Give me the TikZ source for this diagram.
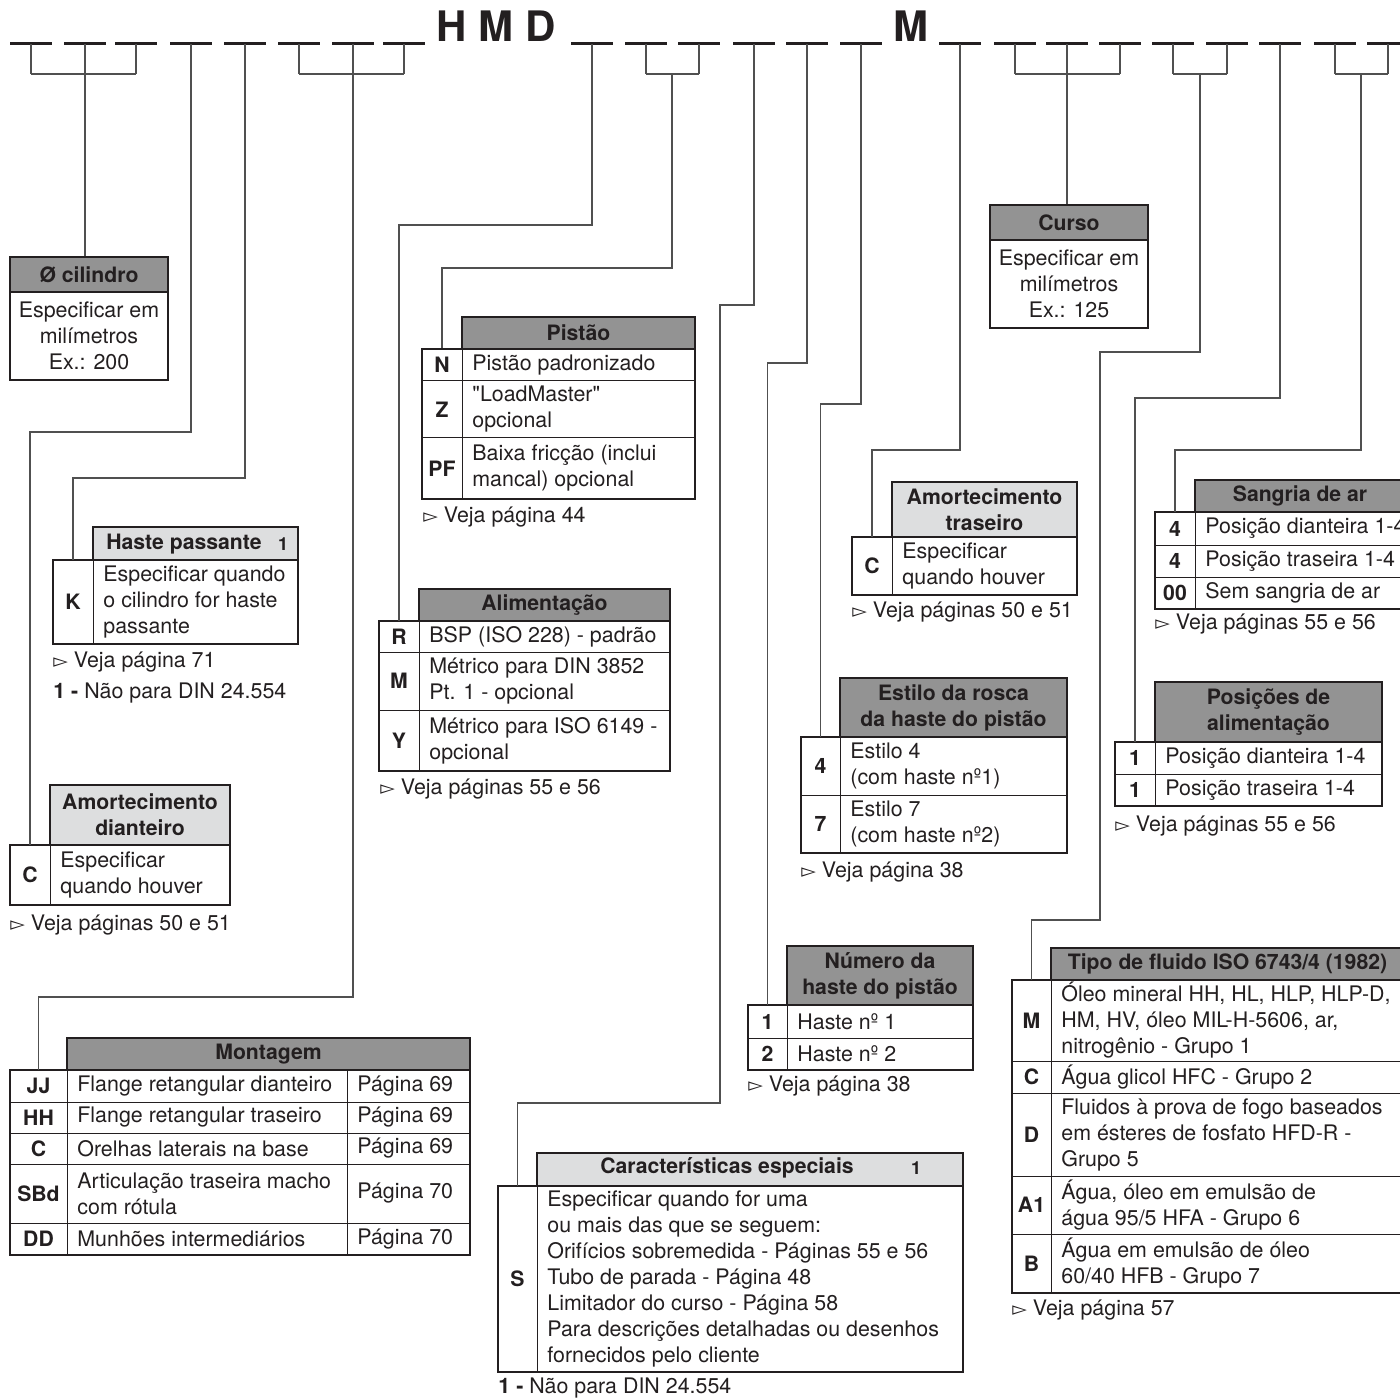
\documentclass[tikz,border=0pt]{standalone}
\usepackage{fontspec}
\setmainfont{TeX Gyre Heros}[Ligatures=TeXOff]
\newfontfamily\symf{DejaVu Sans}
\definecolor{hdark}{RGB}{147,147,147}
\definecolor{hlight}{RGB}{221,222,223}
\definecolor{bd}{RGB}{35,31,32}
\definecolor{ld}{RGB}{80,80,80}
\newcommand\tri{{\symf\fontsize{9.5}{10}\selectfont ▻}}
\newcommand\mybody{\fontsize{10.7}{13}\selectfont}
\newcommand\myhead{\bfseries\fontsize{10.6}{13}\selectfont}
\tikzset{
 hdk/.style={draw=bd, line width=1.2pt, fill=hdark, inner sep=0pt, font=\myhead, align=center, text=bd},
 hlt/.style={hdk, fill=hlight},
 keyc/.style={draw=bd, line width=0.5pt, inner sep=0pt, font=\myhead, text=bd},
 desct/.style={anchor=west, inner sep=0pt, font=\mybody, align=left, text=bd},
 cellln/.style={draw=bd, line width=0.5pt},
 outerln/.style={draw=bd, line width=1.2pt},
 lead/.style={draw=ld, line width=0.75pt},
 dashln/.style={draw=bd, line width=1.5pt},
 note/.style={anchor=west, inner sep=0pt, font=\mybody, text=bd},
 ctext/.style={inner sep=0pt, font=\mybody, align=center, text=bd},
 htxt/.style={inner sep=0pt, font=\myhead, text=bd},
 hnum/.style={inner sep=0pt, font=\bfseries\fontsize{9}{10}\selectfont, text=bd},
}
% name, x1, xk, x2, y1, y2, key, desc
\newcommand\tbrow[8]{%
  \pgfmathsetmacro\tbkw{(#3-#2)*0.5}%
  \pgfmathsetmacro\tbrh{(#6-#5)*0.5}%
  \draw[cellln] (#3,#5) rectangle (#4,#6);%
  \node[keyc, minimum width=\tbkw pt, minimum height=\tbrh pt] (#1k) at ({(#2+#3)/2},{(#5+#6)/2}) {#7};%
  \node[desct] (#1d) at ({#3+10},{(#5+#6)/2}) {#8};%
}
% name, x1, y1, x2, y2, style, text
\newcommand\tbhead[7]{%
  \pgfmathsetmacro\tbhw{(#4-#2)*0.5}%
  \pgfmathsetmacro\tbhh{(#5-#3)*0.5}%
  \node[#6, minimum width=\tbhw pt, minimum height=\tbhh pt] (#1) at ({(#2+#4)/2},{(#3+#5)/2}) {#7};%
}
\begin{document}
\begin{tikzpicture}[x=0.5pt,y=-0.5pt]
\useasboundingbox (0,0) rectangle (1400,1400);
\clip (0,0) rectangle (1400,1400);

% ---- code line ----
\foreach \xx in {31,85,136,191,245,299,353,404,592,646,699,754,807,861,960,1015,1067,1120,1173,1227,1280,1335,1388}
  \draw[dashln] (\xx-21,44) -- (\xx+21,44);
\node[font=\bfseries\fontsize{21}{24}\selectfont, text=bd, anchor=base, inner sep=0pt] (hmd) at (496,42) {H M D};
\node[font=\bfseries\fontsize{21}{24}\selectfont, text=bd, anchor=base, inner sep=0pt] (mm) at (911,42) {M};

\foreach \xx in {31,85,136,299,353,404,646,699,1015,1067,1120,1173,1227,1335,1388}
  \draw[lead] (\xx,44) -- (\xx,74);
\draw[lead] (31,74) -- (136,74);
\draw[lead] (299,74) -- (404,74);
\draw[lead] (646,74) -- (699,74);
\draw[lead] (1015,74) -- (1120,74);
\draw[lead] (1173,74) -- (1227,74);
\draw[lead] (1335,74) -- (1388,74);

\coordinate (s1) at (85,74);
\coordinate (s4) at (191,44);
\coordinate (s5) at (245,44);
\coordinate (s6) at (353,74);
\coordinate (s7) at (592,44);
\coordinate (s8) at (672,74);
\coordinate (s9) at (754,44);
\coordinate (s10) at (807,44);
\coordinate (s11) at (861,44);
\coordinate (s12) at (960,44);
\coordinate (s13) at (1067,74);
\coordinate (s14) at (1200,74);
\coordinate (s15) at (1280,44);
\coordinate (s16) at (1361,74);
\coordinate (b4) at (0,432);
\coordinate (b5) at (0,478);
\coordinate (b6) at (0,997);
\coordinate (b7) at (0,225);
\coordinate (b8) at (0,268);
\coordinate (b9a) at (720,305);
\coordinate (b9b) at (720,1103);
\coordinate (b10) at (0,363);
\coordinate (b11) at (0,404);
\coordinate (b12) at (0,450);
\coordinate (b14a) at (1100,352);
\coordinate (b14b) at (1100,920);
\coordinate (b15) at (0,398);
\coordinate (b16) at (0,450);

% ---- Ø cilindro ----
\tbhead{cylh}{10}{257}{168}{292}{hdk}{Ø cilindro}
\node[ctext, draw=bd, line width=1.2pt, minimum width=79pt, minimum height=44pt] (cylb) at (89,336) {Especificar em\\milímetros\\Ex.: 200};

% ---- Curso ----
\tbhead{cuh}{990}{205}{1148}{240}{hdk}{Curso}
\node[ctext, draw=bd, line width=1.2pt, minimum width=79pt, minimum height=44pt] (cub) at (1069,284) {Especificar em\\milímetros\\Ex.: 125};

% ---- Haste passante ----
\tbrow{hp1}{53}{93}{298}{560}{644}{K}{Especificar quando\\o cilindro for haste\\passante}
\draw[outerln] (53,560) rectangle (298,644);
\tbhead{hph}{93}{527}{298}{560}{hlt}{}
\node[htxt] (hpt) at (184,544) {Haste passante};
\node[hnum] (hpn) at (283,544) {1};
\node[note] (hpv) at (53,662) {\tri\ Veja página 71};
\node[note] (hpf) at (53,693) {\textbf{1 -} Não para DIN 24.554};

% ---- Amortecimento dianteiro ----
\tbrow{ad1}{10}{50}{230}{845}{905}{C}{Especificar\\quando houver}
\draw[outerln] (10,845) rectangle (230,905);
\tbhead{adh}{50}{785}{230}{845}{hlt}{Amortecimento\\dianteiro}
\node[note] (adv) at (10,925) {\tri\ Veja páginas 50 e 51};

% ---- Montagem ----
\tbrow{mo1}{10}{67}{347}{1070}{1102}{JJ}{Flange retangular dianteiro}
\tbrow{mo2}{10}{67}{347}{1102}{1133}{HH}{Flange retangular traseiro}
\tbrow{mo3}{10}{67}{347}{1133}{1164}{C}{Orelhas laterais na base}
\tbrow{mo4}{10}{67}{347}{1164}{1223}{SBd}{Articulação traseira macho\\com rótula}
\tbrow{mo5}{10}{67}{347}{1223}{1255}{DD}{Munhões intermediários}
\draw[cellln] (347,1102) -- (470,1102) (347,1133) -- (470,1133) (347,1164) -- (470,1164) (347,1223) -- (470,1223);
\node[desct] (mo1p) at (357,1086) {Página 69};
\node[desct] (mo2p) at (357,1117.5) {Página 69};
\node[desct] (mo3p) at (357,1148.5) {Página 69};
\node[desct] (mo4p) at (357,1193.5) {Página 70};
\node[desct] (mo5p) at (357,1239) {Página 70};
\draw[outerln] (10,1070) rectangle (470,1255);
\tbhead{moh}{67}{1038}{470}{1070}{hdk}{Montagem}

% ---- Pistão ----
\tbrow{pi1}{422}{462}{695}{349}{381}{N}{Pistão padronizado}
\tbrow{pi2}{422}{462}{695}{381}{438}{Z}{"LoadMaster"\\opcional}
\tbrow{pi3}{422}{462}{695}{438}{499}{PF}{Baixa fricção (inclui\\mancal) opcional}
\draw[outerln] (422,349) rectangle (695,499);
\tbhead{pih}{462}{317}{695}{349}{hdk}{Pistão}
\node[note] (piv) at (423,517) {\tri\ Veja página 44};

% ---- Alimentação ----
\tbrow{al1}{379}{419}{670}{621}{652}{R}{BSP (ISO 228) - padrão}
\tbrow{al2}{379}{419}{670}{652}{710}{M}{Métrico para DIN 3852\\Pt. 1 - opcional}
\tbrow{al3}{379}{419}{670}{710}{771}{Y}{Métrico para ISO 6149 -\\opcional}
\draw[outerln] (379,621) rectangle (670,771);
\tbhead{alh}{419}{589}{670}{621}{hdk}{Alimentação}
\node[note] (alv) at (380,789) {\tri\ Veja páginas 55 e 56};

% ---- Características especiais ----
\tbrow{ce1}{498}{537}{963}{1186}{1372}{S}{Especificar quando for uma\\ou mais das que se seguem:\\Orifícios sobremedida - Páginas 55 e 56\\Tubo de parada - Página 48\\Limitador do curso - Página 58\\Para descrições detalhadas ou desenhos\\fornecidos pelo cliente}
\draw[outerln] (498,1186) rectangle (963,1372);
\tbhead{ceh}{537}{1153}{963}{1186}{hlt}{}
\node[htxt] (cet) at (727,1168) {Características especiais};
\node[hnum] (cen) at (916,1168) {1};
\node[note] (cef) at (498,1388) {\textbf{1 -} Não para DIN 24.554};

% ---- Número da haste ----
\tbrow{nh1}{748}{787}{973}{1005}{1038}{1}{Haste nº 1}
\tbrow{nh2}{748}{787}{973}{1038}{1070}{2}{Haste nº 2}
\draw[outerln] (748,1005) rectangle (973,1070);
\tbhead{nhh}{787}{946}{973}{1005}{hdk}{Número da\\haste do pistão}
\node[note] (nhv) at (748,1086) {\tri\ Veja página 38};

% ---- Estilo da rosca ----
\tbrow{er1}{801}{840}{1067}{737}{795}{4}{Estilo 4\\(com haste nº1)}
\tbrow{er2}{801}{840}{1067}{795}{853}{7}{Estilo 7\\(com haste nº2)}
\draw[outerln] (801,737) rectangle (1067,853);
\tbhead{erh}{840}{678}{1067}{737}{hdk}{Estilo da rosca\\da haste do pistão}
\node[note] (erv) at (801,872) {\tri\ Veja página 38};

% ---- Amortecimento traseiro ----
\tbrow{at1}{852}{892}{1077}{537}{595}{C}{Especificar\\quando houver}
\draw[outerln] (852,537) rectangle (1077,595);
\tbhead{ath}{892}{482}{1077}{537}{hlt}{Amortecimento\\traseiro}
\node[note] (atv) at (852,612) {\tri\ Veja páginas 50 e 51};

% ---- Tipo de fluido ----
\tbrow{tf1}{1012}{1051}{1404}{980}{1061}{M}{Óleo mineral HH, HL, HLP, HLP-D,\\HM, HV, óleo MIL-H-5606, ar,\\nitrogênio - Grupo 1}
\tbrow{tf2}{1012}{1051}{1404}{1061}{1093}{C}{Água glicol HFC - Grupo 2}
\tbrow{tf3}{1012}{1051}{1404}{1093}{1176}{D}{Fluidos à prova de fogo baseados\\em ésteres de fosfato HFD-R -\\Grupo 5}
\tbrow{tf4}{1012}{1051}{1404}{1176}{1234}{A1}{Água, óleo em emulsão de\\água 95/5 HFA - Grupo 6}
\tbrow{tf5}{1012}{1051}{1404}{1234}{1293}{B}{Água em emulsão de óleo\\60/40 HFB - Grupo 7}
\draw[outerln] (1012,980) rectangle (1404,1293);
\tbhead{tfh}{1051}{948}{1404}{980}{hdk}{Tipo de fluido ISO 6743/4 (1982)}
\node[note] (tfv) at (1012,1310) {\tri\ Veja página 57};

% ---- Posições de alimentação ----
\tbrow{pa1}{1115}{1155}{1382}{742}{774}{1}{Posição dianteira 1-4}
\tbrow{pa2}{1115}{1155}{1382}{774}{806}{1}{Posição traseira 1-4}
\draw[outerln] (1115,742) rectangle (1382,806);
\tbhead{pah}{1155}{682}{1382}{742}{hdk}{Posições de\\alimentação}
\node[note] (pav) at (1115,826) {\tri\ Veja páginas 55 e 56};

% ---- Sangria de ar ----
\tbrow{sa1}{1155}{1195}{1405}{512}{545}{4}{Posição dianteira 1-4}
\tbrow{sa2}{1155}{1195}{1405}{545}{577}{4}{Posição traseira 1-4}
\tbrow{sa3}{1155}{1195}{1405}{577}{609}{00}{Sem sangria de ar}
\draw[outerln] (1155,512) rectangle (1405,609);
\tbhead{sah}{1195}{480}{1405}{512}{hdk}{Sangria de ar}
\node[note] (sav) at (1155,624) {\tri\ Veja páginas 55 e 56};

% ---- leaders ----
\draw[lead] (s1) -- (s1 |- cylh.north);
\draw[lead] (s4) |- (ad1k.north |- b4) -- (ad1k.north);
\draw[lead] (s5) |- (hp1k.north |- b5) -- (hp1k.north);
\draw[lead] (s6) |- (mo1k.north |- b6) -- (mo1k.north);
\draw[lead] (s7) |- (al1k.north |- b7) -- (al1k.north);
\draw[lead] (s8) |- (pi1k.north |- b8) -- (pi1k.north);
\draw[lead] (s9) |- (b9a) -- (b9b) -| (ce1k.north);
\draw[lead] (s10) |- (nh1k.north |- b10) -- (nh1k.north);
\draw[lead] (s11) |- (er1k.north |- b11) -- (er1k.north);
\draw[lead] (s12) |- (at1k.north |- b12) -- (at1k.north);
\draw[lead] (s13) -- (s13 |- cuh.north);
\draw[lead] (s14) |- (b14a) -- (b14b) -| (tf1k.north);
\draw[lead] (s15) |- (pa1k.north |- b15) -- (pa1k.north);
\draw[lead] (s16) |- (sa1k.north |- b16) -- (sa1k.north);
\end{tikzpicture}
\end{document}
